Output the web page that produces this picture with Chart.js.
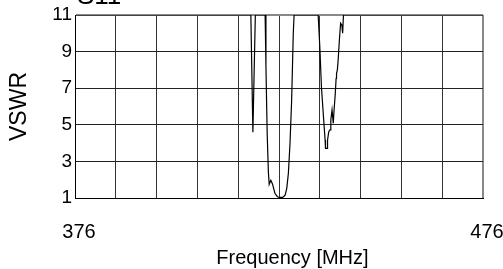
<!DOCTYPE html>
<html>
<head>
<meta charset="utf-8">
<script src="https://cdn.jsdelivr.net/npm/chart.js@4"></script>
<style>
html,body{margin:0;padding:0;background:#fff;}
#wrap{width:503px;height:269px;position:relative;}
</style>
</head>
<body>
<div id="wrap"><canvas id="c" width="503" height="269"></canvas></div>
<script>
const titleText = "S11";
const xAxisTitle = "Frequency [MHz]";
const yAxisTitle = "VSWR";
const xTickLabels = [376, 476];
const yTickValues = [1, 3, 5, 7, 9, 11];

const freqMHz = [376, 419.1, 419.6, 420.2, 422.6, 422.8, 423.1, 423.4, 423.6, 424.0, 424.4, 425.0, 425.6, 426.2, 426.9, 427.5, 427.9, 428.3, 428.7, 429.1, 429.5, 429.7,
  435.6, 436.0, 436.4, 436.9, 437.3, 437.4, 437.8, 437.9, 438.2, 438.5, 438.7, 439.0, 439.3, 439.5, 439.8, 440.0, 440.1, 440.3, 440.5, 440.8, 441.1, 441.4, 441.6, 441.8, 476];
const vswr = [11, 11, 4.6, 11, 11, 8.2, 4.55, 2.4, 1.75, 1.97, 1.77, 1.26, 1.07, 1.03, 1.03, 1.16, 1.53, 2.35, 3.99, 6.36, 10.0, 11,
  11, 9.27, 7.08, 5.44, 4.17, 3.71, 3.71, 4.17, 4.62, 4.72, 5.26, 5.81, 5.08, 5.81, 6.72, 7.54, 7.81, 7.99, 8.54, 9.63, 10.55, 10.45, 10.0, 11, 11];

const points = freqMHz.map((f, i) => ({x: f, y: vswr[i]}));
const FONT = "'Liberation Sans', Arial, sans-serif";

const textPlugin = {
  id: 'textPlugin',
  afterDraw(chart) {
    const ctx = chart.ctx;
    const a = chart.chartArea;
    ctx.save();
    ctx.fillStyle = '#000';
    ctx.font = "26px " + FONT;
    ctx.textAlign = 'left';
    ctx.textBaseline = 'alphabetic';
    ctx.fillText(titleText, a.left + 2, 4);
    ctx.font = "20px " + FONT;
    ctx.textAlign = 'center';
    ctx.textBaseline = 'middle';
    ctx.fillText(xAxisTitle, a.left + (a.right - a.left) * 0.533, 258);
    ctx.restore();
  }
};

new Chart(document.getElementById('c'), {
  type: 'line',
  data: {
    datasets: [{
      data: points,
      borderColor: '#000',
      borderWidth: 1.2,
      pointRadius: 0,
      tension: 0,
      fill: false
    }]
  },
  options: {
    responsive: false,
    animation: false,
    devicePixelRatio: 1,
    layout: {padding: {left: 0, right: 0, top: 15, bottom: 0}},
    plugins: {legend: {display: false}, tooltip: {enabled: false}, title: {display: false}},
    scales: {
      x: {
        type: 'linear',
        min: 376, max: 476,
        afterFit: s => { s.height = 71; s.paddingLeft = 0; s.paddingRight = 20; },
        ticks: {
          stepSize: 10,
          autoSkip: false,
          maxRotation: 0,
          padding: 22,
          labelOffset: 4,
          color: '#000',
          font: {family: FONT, size: 20},
          callback: v => xTickLabels.includes(v) ? String(v) : ''
        },
        grid: {
          drawTicks: false,
          color: ctx => (ctx.tick && ctx.tick.value === 476) ? '#888' : '#333',
          lineWidth: ctx => (ctx.tick && ctx.tick.value === 476) ? 2 : 1
        },
        border: {color: '#000', width: 1}
      },
      y: {
        min: 1, max: 11,
        afterFit: s => { s.width = 75; s.paddingTop = 0; s.paddingBottom = 0; },
        afterBuildTicks: s => { s.ticks = yTickValues.map(v => ({value: v})); },
        ticks: {
          padding: 3,
          color: '#000',
          font: {family: FONT, size: 19}
        },
        title: {
          display: true,
          text: yAxisTitle,
          color: '#000',
          font: {family: FONT, size: 23},
          padding: {top: 6, bottom: 0}
        },
        grid: {
          drawTicks: false,
          color: ctx => (ctx.tick && ctx.tick.value === 11) ? '#888' : '#222',
          lineWidth: ctx => (ctx.tick && ctx.tick.value === 11) ? 2 : 1
        },
        border: {color: '#000', width: 1}
      }
    }
  },
  plugins: [textPlugin]
});
</script>
</body>
</html>
